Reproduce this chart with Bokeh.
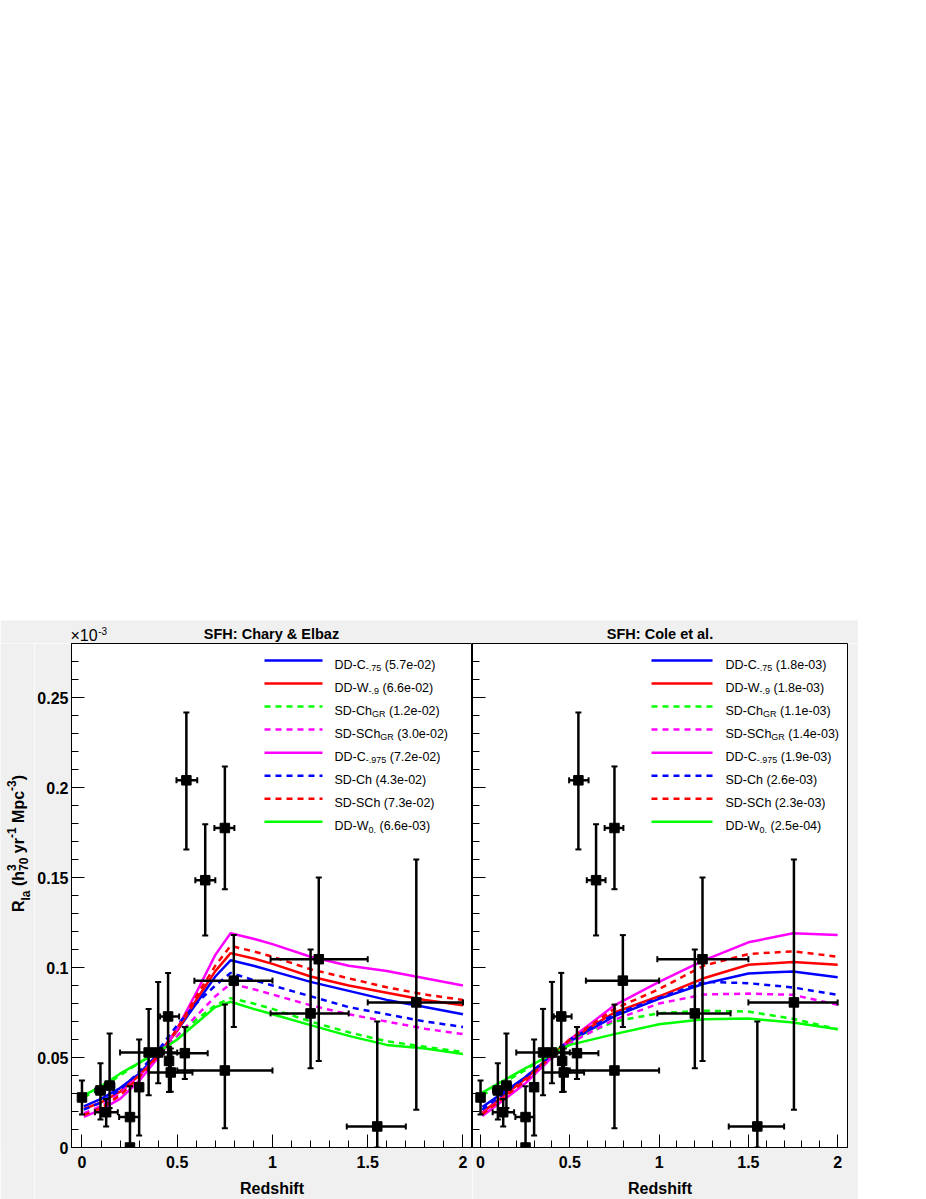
import numpy as np
from bokeh.plotting import figure
from bokeh.models import (Range1d, FixedTicker, NumeralTickFormatter, CustomJSTickFormatter,
                          Label, Arrow, Whisker, TeeHead, ColumnDataSource, Spacer, BoxAnnotation)
from bokeh.layouts import row, column
from bokeh.embed import file_html
from bokeh.resources import INLINE

# ---------------- observed SN Ia rates (x 1e-3) ----------------
obs_z    = [0.000, 0.097, 0.127, 0.145, 0.252, 0.252, 0.300, 0.350, 0.400, 0.452, 0.457,
            0.466, 0.540, 0.548, 0.647, 0.750, 0.750, 0.797, 1.200, 1.243, 1.550, 1.755]
obs_r    = [0.0278, 0.0317, 0.0196, 0.0344, 0.0169, 0.0000, 0.0335, 0.0528, 0.0528, 0.0728, 0.0481,
            0.0417, 0.0524, 0.2040, 0.1485, 0.1775, 0.0428, 0.0927, 0.0745, 0.1046, 0.0117, 0.0806]
obs_z_lo = [0.000, 0.070, 0.068, 0.120, 0.195, 0.252, 0.300, 0.200, 0.370, 0.410, 0.457,
            0.350, 0.470, 0.496, 0.595, 0.695, 0.500, 0.590, 0.990, 0.990, 1.390, 1.500]
obs_z_hi = [0.000, 0.120, 0.188, 0.170, 0.300, 0.252, 0.300, 0.500, 0.430, 0.510, 0.457,
            0.580, 0.660, 0.605, 0.700, 0.800, 1.000, 1.000, 1.400, 1.500, 1.700, 2.000]
obs_r_lo = [0.0183, 0.0156, 0.0117, 0.0220, 0.0000, 0.0000, 0.0067, 0.0290, 0.0357, 0.0490, 0.0308,
            0.0310, 0.0380, 0.1656, 0.1178, 0.1435, 0.0107, 0.0670, 0.0440, 0.0480, 0.0000, 0.0210]
obs_r_hi = [0.0372, 0.0468, 0.0270, 0.0633, 0.0340, 0.0000, 0.0600, 0.0770, 0.0920, 0.0970, 0.0560,
            0.0550, 0.0670, 0.2417, 0.1796, 0.2117, 0.0794, 0.1180, 0.1100, 0.1500, 0.0700, 0.1600]

# ---------------- model curves: SFH Chary & Elbaz ----------------
chary_z        = [0.01, 0.1, 0.2, 0.3, 0.4, 0.5, 0.6, 0.7, 0.78, 0.9, 1.0, 1.2, 1.4, 1.6, 1.8, 2.0]
chary_dd_c75   = [0.0228, 0.027, 0.033, 0.041, 0.052, 0.065, 0.080, 0.095, 0.104, 0.101, 0.098, 0.092, 0.087, 0.082, 0.078, 0.074]
chary_dd_w9    = [0.0215, 0.025, 0.031, 0.040, 0.051, 0.065, 0.082, 0.098, 0.108, 0.105, 0.102, 0.095, 0.090, 0.086, 0.082, 0.079]
chary_sd_chgr  = [0.028, 0.033, 0.040, 0.047, 0.054, 0.062, 0.071, 0.079, 0.083, 0.080, 0.077, 0.070, 0.064, 0.059, 0.056, 0.053]
chary_sd_schgr = [0.019, 0.023, 0.030, 0.040, 0.051, 0.062, 0.073, 0.084, 0.091, 0.088, 0.085, 0.079, 0.074, 0.070, 0.066, 0.063]
chary_dd_c975  = [0.017, 0.021, 0.027, 0.037, 0.050, 0.066, 0.086, 0.107, 0.119, 0.116, 0.113, 0.106, 0.101, 0.098, 0.094, 0.090]
chary_sd_ch    = [0.021, 0.025, 0.032, 0.042, 0.054, 0.068, 0.080, 0.090, 0.097, 0.093, 0.090, 0.084, 0.078, 0.074, 0.070, 0.067]
chary_sd_sch   = [0.018, 0.022, 0.029, 0.039, 0.051, 0.066, 0.084, 0.101, 0.112, 0.109, 0.106, 0.099, 0.094, 0.089, 0.085, 0.082]
chary_dd_w0    = [0.029, 0.034, 0.041, 0.047, 0.053, 0.060, 0.069, 0.078, 0.081, 0.077, 0.074, 0.068, 0.062, 0.057, 0.055, 0.052]

# ---------------- model curves: SFH Cole et al. ----------------
cole_z        = [0.01, 0.25, 0.5, 0.75, 1.0, 1.25, 1.5, 1.75, 2.0]
cole_dd_c75   = [0.0225, 0.039, 0.059, 0.073, 0.0826, 0.091, 0.0967, 0.0978, 0.0946]
cole_dd_w9    = [0.0195, 0.038, 0.060, 0.075, 0.084, 0.094, 0.1015, 0.103, 0.1015]
cole_sd_chgr  = [0.029, 0.043, 0.059, 0.070, 0.0746, 0.076, 0.0755, 0.0715, 0.0657]
cole_sd_schgr = [0.019, 0.037, 0.058, 0.071, 0.080, 0.085, 0.0855, 0.0848, 0.0793]
cole_dd_c975  = [0.0175, 0.0355, 0.060, 0.079, 0.092, 0.104, 0.114, 0.119, 0.118]
cole_sd_ch    = [0.021, 0.039, 0.060, 0.074, 0.083, 0.092, 0.0913, 0.0889, 0.0848]
cole_sd_sch   = [0.0185, 0.037, 0.060, 0.077, 0.088, 0.101, 0.1075, 0.109, 0.106]
cole_dd_w0    = [0.0305, 0.044, 0.057, 0.063, 0.0685, 0.0713, 0.0716, 0.0694, 0.0657]

# ---------------- legend / labels ----------------
legend_main = ["DD-C", "DD-W", "SD-Ch", "SD-SCh", "DD-C", "SD-Ch", "SD-SCh", "DD-W"]
legend_sub  = ["-.75", "-.9", "GR", "GR", "-.975", "", "", "0."]
chary_fom   = ["5.7e-02", "6.6e-02", "1.2e-02", "3.0e-02", "7.2e-02", "4.3e-02", "7.3e-02", "6.6e-03"]
cole_fom    = ["1.8e-03", "1.8e-03", "1.1e-03", "1.4e-03", "1.9e-03", "2.6e-03", "2.3e-03", "2.5e-04"]
curve_colors = ["#0000ff", "#ff0000", "#00ff00", "#ff00ff", "#ff00ff", "#0000ff", "#ff0000", "#00ff00"]
curve_dashed = [False, False, True, True, False, True, True, False]

chary_curves = [chary_dd_c75, chary_dd_w9, chary_sd_chgr, chary_sd_schgr,
                chary_dd_c975, chary_sd_ch, chary_sd_sch, chary_dd_w0]
cole_curves = [cole_dd_c75, cole_dd_w9, cole_sd_chgr, cole_sd_schgr,
               cole_dd_c975, cole_sd_ch, cole_sd_sch, cole_dd_w0]

panel_titles = ["SFH: Chary & Elbaz", "SFH: Cole et al."]
x_title = "Redshift"
x_ticks = [0, 0.5, 1, 1.5, 2]
y_ticks = [0, 0.05, 0.1, 0.15, 0.2, 0.25]

FONT = "Liberation Sans"
BG = "#f0f0f0"
DASH = "6 5"

REG = {' ': 278, '(': 333, ')': 333, '-': 333, '.': 278, 'e': 556, 'D': 722, 'C': 722, 'W': 944,
       'S': 667, 'h': 556, 'G': 778, 'R': 722, '\u00d7': 584, 'a': 556, 'y': 500, 'r': 333,
       'M': 833, 'p': 556, 'c': 500, 'I': 278}
BOLD = {' ': 278, '(': 333, ')': 333, '-': 333, '.': 278, 'R': 722, 'I': 278, 'a': 556, 'h': 611,
        'y': 556, 'r': 389, 'M': 833, 'p': 611, 'c': 556}


def tw(s, size, bold=False):
    t = BOLD if bold else REG
    return sum(t.get(c, 556) for c in s) * size / 1000.0


FRAME_H = 504
PANEL_H = 556
TOP_H = 23      # grey band above the frames
TOP_EXTRA = 30  # white room above the grey band, part of the same strip


def strip(width, height, bg=BG):
    f = figure(width=width, height=height, output_backend="svg", toolbar_location=None,
               title=None, x_axis_type=None, y_axis_type=None,
               x_range=Range1d(0, 1), y_range=Range1d(0, 1), min_border=0)
    f.background_fill_color = bg
    f.border_fill_color = bg
    f.outline_line_color = None
    f.grid.visible = False
    return f


def make_panel(width, min_left, min_right, xr, zs, curves, fom, leg_line0, leg_line1, leg_text, left_labels):
    p = figure(width=width, height=PANEL_H, output_backend="svg", toolbar_location=None,
               title=None, x_range=Range1d(*xr), y_range=Range1d(0, 0.28),
               min_border_left=min_left, min_border_right=min_right,
               min_border_top=0, min_border_bottom=PANEL_H - FRAME_H)
    p.background_fill_color = "white"
    p.border_fill_color = BG
    p.outline_line_color = "black"
    p.outline_line_width = 1
    p.grid.visible = False

    xa = p.xaxis[0]
    xa.ticker = FixedTicker(ticks=x_ticks, minor_ticks=[round(0.1 * k, 2) for k in range(0, 21)])
    xa.formatter = NumeralTickFormatter(format="0.[0]")
    xa.major_tick_in = 13
    xa.major_tick_out = 0
    xa.minor_tick_in = 7
    xa.minor_tick_out = 0
    xa.major_label_text_font = FONT
    xa.major_label_text_font_size = "16px"
    xa.major_label_text_font_style = "bold"
    xa.major_label_text_color = "black"
    xa.major_label_standoff = 8
    xa.axis_line_color = "black"
    xa.major_tick_line_color = "black"
    xa.minor_tick_line_color = "black"
    xa.axis_label = x_title
    xa.axis_label_text_font = FONT
    xa.axis_label_text_font_size = "16px"
    xa.axis_label_text_font_style = "bold"
    xa.axis_label_text_color = "black"
    xa.axis_label_standoff = 9

    ya = p.yaxis[0]
    ya.ticker = FixedTicker(ticks=y_ticks, minor_ticks=[round(0.01 * k, 2) for k in range(0, 29)])
    ya.major_tick_in = 13
    ya.major_tick_out = 0
    ya.minor_tick_in = 7
    ya.minor_tick_out = 0
    ya.axis_line_color = "black"
    ya.major_tick_line_color = "black"
    ya.minor_tick_line_color = "black"
    if left_labels:
        ya.formatter = NumeralTickFormatter(format="0.[00]")
        ya.major_label_text_font = FONT
        ya.major_label_text_font_size = "16px"
        ya.major_label_text_font_style = "bold"
        ya.major_label_text_color = "black"
        ya.major_label_standoff = 3
    else:
        ya.formatter = CustomJSTickFormatter(code="return ''")
        ya.major_label_standoff = 0
        ya.major_label_text_font_size = "1px"

    # model curves
    for ys, col, dsh in zip(curves, curve_colors, curve_dashed):
        p.line(zs, ys, line_color=col, line_width=2.5,
               line_dash=DASH if dsh else "solid")

    # data with error bars
    yerr_src = ColumnDataSource(dict(
        x=[z for z, a, b in zip(obs_z, obs_r_lo, obs_r_hi) if b > a],
        lo=[a for a, b in zip(obs_r_lo, obs_r_hi) if b > a],
        hi=[b for a, b in zip(obs_r_lo, obs_r_hi) if b > a]))
    xerr_src = ColumnDataSource(dict(
        y=[r for r, a, b in zip(obs_r, obs_z_lo, obs_z_hi) if b > a],
        lo=[a for a, b in zip(obs_z_lo, obs_z_hi) if b > a],
        hi=[b for a, b in zip(obs_z_lo, obs_z_hi) if b > a]))
    for src, base, dim in ((yerr_src, "x", "height"), (xerr_src, "y", "width")):
        w = Whisker(source=src, base=base, lower="lo", upper="hi", dimension=dim,
                    line_color="black", line_width=2.5, level="glyph",
                    lower_head=TeeHead(size=6, line_color="black", line_width=2),
                    upper_head=TeeHead(size=6, line_color="black", line_width=2))
        p.add_layout(w)
    p.scatter(obs_z, obs_r, marker="square", size=9.5, fill_color="black", line_color="black")

    # legend (drawn by hand to keep the sub-scripts)
    for i in range(8):
        ly = 487 - 23.04 * i
        p.add_layout(Arrow(start=None, end=None, x_start=leg_line0, y_start=ly, x_end=leg_line1, y_end=ly,
                           start_units="screen", end_units="screen", line_color=curve_colors[i],
                           line_width=2.5, line_dash=DASH if curve_dashed[i] else "solid"))
        tx = leg_text
        base_y = ly - 4.3
        p.add_layout(Label(x=tx, y=base_y, x_units="screen", y_units="screen", text=legend_main[i],
                           text_font=FONT, text_font_size="12.5px", text_baseline="alphabetic",
                           text_color="black"))
        tx += tw(legend_main[i], 12.5)
        if legend_sub[i]:
            p.add_layout(Label(x=tx, y=base_y - 3.5, x_units="screen", y_units="screen", text=legend_sub[i],
                               text_font=FONT, text_font_size="9px", text_baseline="alphabetic",
                               text_color="black"))
            tx += tw(legend_sub[i], 9)
        tx += tw(" ", 12.5)
        p.add_layout(Label(x=tx, y=base_y, x_units="screen", y_units="screen", text="(" + fom[i] + ")",
                           text_font=FONT, text_font_size="12.5px", text_baseline="alphabetic",
                           text_color="black"))
    return p


# page x: 0..34 y-title strip, 34..472 left panel (frame from 70), 472..858 right panel
left = make_panel(438, 36, 0, (-0.055, 2.05), chary_z, chary_curves, chary_fom,
                  193, 251, 263, True)
right = make_panel(386, 0, 11, (-0.045, 2.055), cole_z, cole_curves, cole_fom,
                   179, 240, 253, False)

# top strip: panel titles and axis multiplier (grey band = page y 620..643)
top = strip(858, TOP_H + TOP_EXTRA, bg="white")
top.add_layout(BoxAnnotation(bottom=0, top=TOP_H, bottom_units="screen", top_units="screen",
                             fill_color=BG, fill_alpha=1.0, line_color=None, level="underlay"))
for txt, cx in zip(panel_titles, [271, 659.5]):
    top.add_layout(Label(x=cx, y=18, x_units="screen", y_units="screen", text=txt,
                         text_font=FONT, text_font_size="14.5px", text_font_style="bold",
                         text_align="center", text_baseline="top", text_color="black"))
top.add_layout(Label(x=70, y=17, x_units="screen", y_units="screen", text="\u00d710",
                     text_font=FONT, text_font_size="16px", text_baseline="top",
                     text_color="black"))
top.add_layout(Label(x=70 + tw("\u00d710", 16) + 0.5, y=16.5, x_units="screen", y_units="screen",
                     text="-3", text_font=FONT, text_font_size="10px", text_baseline="top",
                     text_color="black"))

# left strip: rotated y axis title  R_Ia (h^3_70 yr^-1 Mpc^-3)
ylab = strip(34, PANEL_H)
pieces = [[("R", 16, 0)], [("Ia", 12, -5)], [(" (h", 16, 0)], [("3", 12, 7), ("70", 12, -5)],
          [(" yr", 16, 0)], [("-1", 12, 7)], [(" Mpc", 16, 0)], [("-3", 12, 7)], [(")", 16, 0)]]
total = sum(max(tw(t, s, True) for t, s, _ in grp) for grp in pieces)
pos = (1199 - 895) - total / 2
base_x = 24   # baseline of the main text (page x); glyph tops point to the left
for grp in pieces:
    for t, s, sh in grp:
        lead = len(t) - len(t.lstrip(" "))
        off = tw(" " * lead, s, True)
        top_x = base_x - sh - 0.905 * s   # anchor at the glyph top, text grows to the right
        ylab.add_layout(Label(x=top_x, y=pos + off, x_units="screen", y_units="screen",
                              text=t.lstrip(" "), angle=np.pi / 2, text_font=FONT,
                              text_font_size="%dpx" % s, text_font_style="bold",
                              text_baseline="top", text_align="left", text_color="black"))
    pos += max(tw(t, s, True) for t, s, _ in grp)

layout = column(Spacer(width=858, height=620 - TOP_EXTRA), top, row(ylab, left, right))
open("out.html", "w").write(file_html(layout, INLINE))
